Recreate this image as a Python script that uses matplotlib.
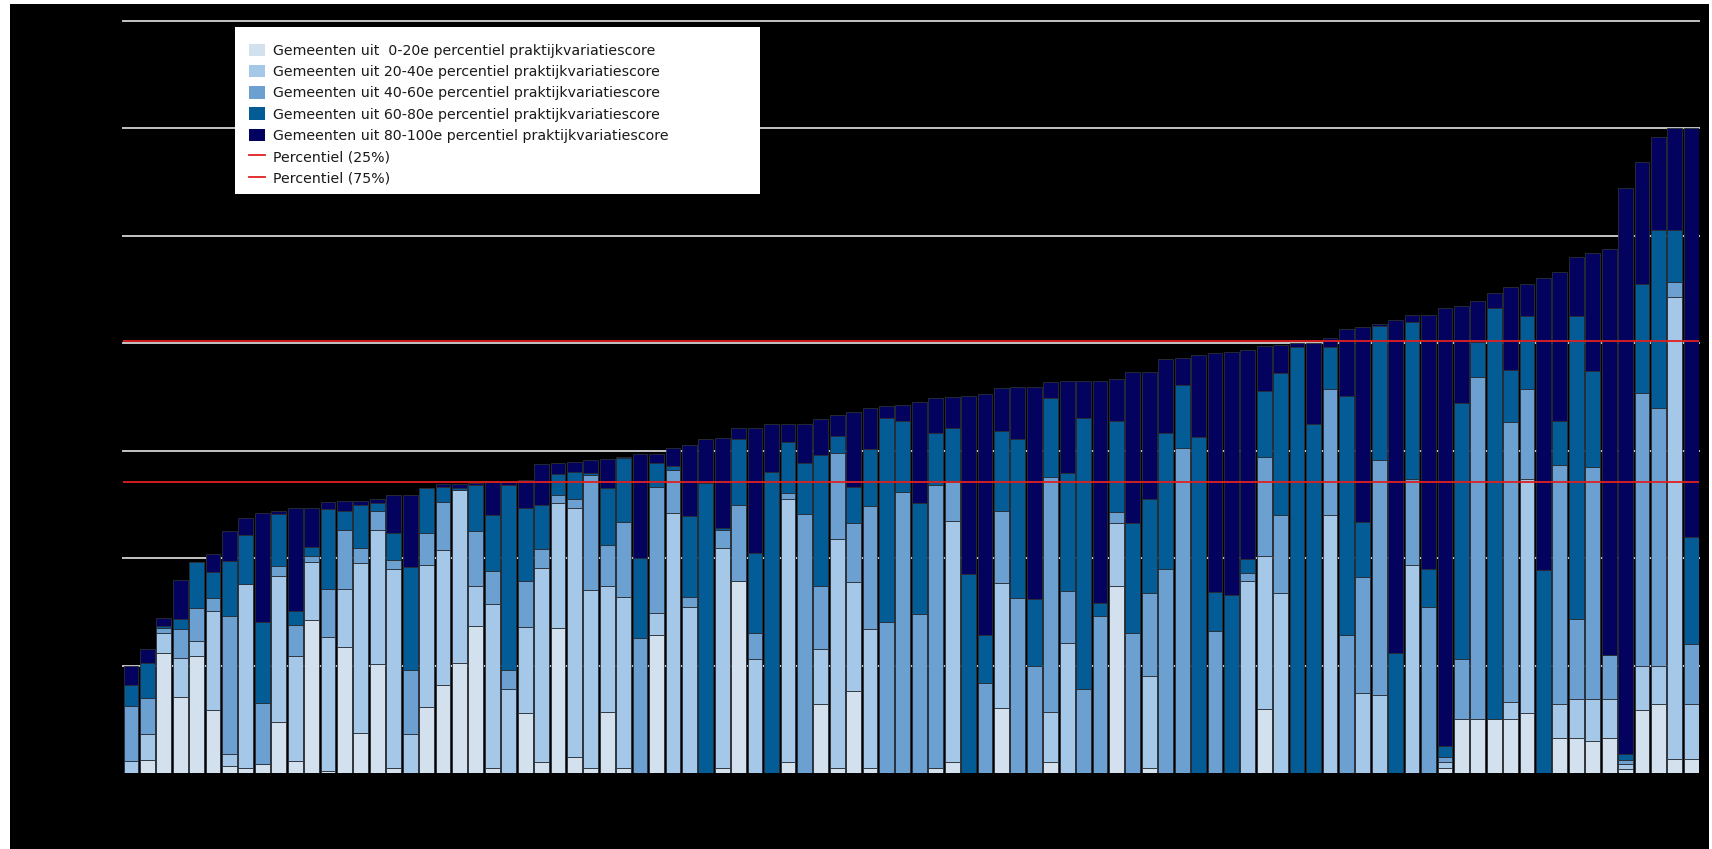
import matplotlib
matplotlib.use('Agg')
import matplotlib.pyplot as plt
import numpy as np
from matplotlib.patches import Rectangle, Patch
from matplotlib.lines import Line2D

# ---------------- data (cumulative upper bounds of each stacked group) ----------------
top_0_20 = [0, 0.12, 1.114, 0.711, 1.089, 0.587, 0.068, 0.05, 0.084, 0.472,
            0.112, 1.425, 0.02, 1.17, 0.375, 1.015, 0.05, 0, 0.611, 0.819,
            1.027, 1.369, 0.05, 0, 0.556, 0.1, 1.35, 0.15, 0.05, 0.565,
            0.05, 0, 1.285, 0, 0, 0, 0.05, 1.788, 0, 0,
            0.1, 0, 0.639, 0.05, 0.763, 0.05, 0, 0, 0, 0.05,
            0.1, 0, 0, 0.602, 0, 0, 0.1, 0, 0, 0,
            1.741, 0, 0.05, 0, 0, 0, 0, 0, 0, 0.593,
            0, 0, 0, 0, 0, 0, 0, 0, 0, 0,
            0.05, 0.5, 0.5, 0.5, 0.5, 0.555, 0, 0.33, 0.33, 0.30,
            0.33, 0.04, 0.59, 0.64, 0.13, 0.13]
top_20_40 = [0.11, 0.36, 1.30, 1.074, 1.229, 1.508, 0.177, 1.757, 0.084, 1.837,
             1.086, 1.965, 1.269, 1.713, 1.958, 2.26, 1.896, 0.36, 1.937, 2.076,
             2.632, 1.741, 1.574, 0.779, 1.363, 1.906, 2.517, 2.467, 1.704, 1.741,
             1.642, 0, 1.493, 2.418, 1.549, 0, 2.092, 1.788, 1.058, 0,
             2.551, 0, 1.151, 2.176, 1.781, 1.338, 0, 0, 0, 0.05,
             2.343, 0, 0, 1.769, 0, 0, 0.571, 1.214, 0, 0,
             2.331, 0, 0.903, 0, 0, 0, 0, 0, 1.788, 2.02,
             1.673, 0, 0, 2.402, 0, 0.742, 0.726, 0, 1.934, 0,
             0.1, 0.5, 0.5, 0.5, 0.664, 2.737, 0, 0.64, 0.69, 0.69,
             0.69, 0.08, 1.0, 1.0, 4.43, 0.64]
top_40_60 = [0.624, 0.695, 1.347, 1.338, 1.533, 1.633, 1.462, 1.757, 0.652, 1.927,
             1.378, 2.02, 1.713, 2.26, 2.092, 2.443, 1.983, 0.959, 2.232, 2.523,
             2.632, 2.256, 1.881, 0.959, 1.785, 2.089, 2.592, 2.554, 2.775, 2.12,
             2.34, 1.254, 2.666, 2.821, 1.642, 0, 2.263, 2.495, 1.307, 0,
             2.604, 2.412, 1.741, 2.983, 2.331, 2.486, 1.406, 2.62, 1.477, 2.682,
             2.706, 0, 0.835, 2.439, 1.633, 0.999, 2.759, 1.698, 0.782, 1.462,
             2.427, 1.307, 1.673, 1.896, 3.023, 0, 1.322, 0, 1.865, 2.939,
             2.402, 0, 0, 3.572, 1.285, 1.828, 2.916, 0, 2.734, 1.547,
             0.15, 1.058, 3.682, 0.5, 3.263, 3.573, 0, 2.865, 1.43, 2.85,
             1.10, 0.12, 3.54, 3.4, 4.57, 1.2]
top_60_80 = [0.82, 1.027, 1.369, 1.434, 1.968, 1.868, 1.977, 2.216, 1.409, 2.41,
             1.508, 2.107, 2.455, 2.44, 2.495, 2.511, 2.232, 1.921, 2.651, 2.66,
             2.651, 2.678, 2.399, 2.682, 2.467, 2.495, 2.787, 2.803, 2.79, 2.65,
             2.936, 2.005, 2.883, 2.858, 2.396, 2.697, 2.284, 3.11, 2.052, 2.803,
             3.082, 2.883, 2.958, 3.138, 2.666, 3.014, 3.309, 3.278, 2.511, 3.163,
             3.209, 1.853, 1.282, 3.181, 3.11, 1.617, 3.488, 2.79, 3.305, 1.586,
             3.278, 2.325, 2.548, 3.163, 3.613, 3.125, 1.688, 1.657, 1.989, 3.557,
             3.727, 3.963, 3.25, 3.963, 3.513, 2.34, 4.16, 1.12, 4.197, 1.898,
             0.25, 3.445, 4.011, 4.325, 3.755, 4.255, 1.887, 3.28, 4.25, 3.74,
             1.10, 0.18, 4.55, 5.05, 5.05, 2.2]
top_80_100 = [1.0, 1.155, 1.446, 1.797, 1.968, 2.036, 2.256, 2.371, 2.424, 2.44,
              2.464, 2.464, 2.523, 2.536, 2.536, 2.551, 2.592, 2.592, 2.651, 2.688,
              2.688, 2.697, 2.706, 2.71, 2.728, 2.874, 2.883, 2.899, 2.914, 2.923,
              2.945, 2.97, 2.97, 3.026, 3.051, 3.107, 3.122, 3.209, 3.209, 3.25,
              3.25, 3.25, 3.293, 3.33, 3.361, 3.402, 3.417, 3.43, 3.457, 3.489,
              3.501, 3.513, 3.529, 3.585, 3.597, 3.597, 3.641, 3.65, 3.65, 3.65,
              3.665, 3.737, 3.737, 3.852, 3.867, 3.892, 3.907, 3.923, 3.938, 3.979,
              3.985, 4.0, 4.0, 4.047, 4.131, 4.156, 4.179, 4.215, 4.259, 4.259,
              4.325, 4.35, 4.398, 4.467, 4.522, 4.551, 4.606, 4.66, 4.80, 4.84,
              4.88, 5.45, 5.69, 5.92, 6.0, 6.0]

percentile_25 = 2.712
percentile_75 = 4.02

labels = ['Gemeenten uit  0-20e percentiel praktijkvariatiescore',
          'Gemeenten uit 20-40e percentiel praktijkvariatiescore',
          'Gemeenten uit 40-60e percentiel praktijkvariatiescore',
          'Gemeenten uit 60-80e percentiel praktijkvariatiescore',
          'Gemeenten uit 80-100e percentiel praktijkvariatiescore',
          'Percentiel (25%)',
          'Percentiel (75%)']

colors = ['#d2e1ed', '#a5c8e8', '#6ca0d1', '#045c97', '#03035f']
red = '#e02020'

# ---------------- figure ----------------
W, H = 1712, 849
fig = plt.figure(figsize=(W / 100, H / 100), dpi=100, facecolor='black')
for (x0, y0, w, h) in [(0, 0, 10 / W, 1), (0, 1 - 4 / H, 1, 4 / H), (1 - 3 / W, 0, 3 / W, 1)]:
    fig.patches.append(Rectangle((x0, y0), w, h, transform=fig.transFigure,
                                 facecolor='white', edgecolor='none', zorder=-1))

ax = fig.add_axes([122.7 / W, 76 / H, (1699.5 - 122.7) / W, 752 / H])
ax.set_facecolor('black')

cum = [np.zeros(len(top_80_100))] + [np.array(a, float) for a in
                                      (top_0_20, top_20_40, top_40_60, top_60_80, top_80_100)]
x = np.arange(len(top_80_100))
for k in range(5):
    ax.bar(x, cum[k + 1] - cum[k], bottom=cum[k], width=0.9, color=colors[k],
           edgecolor='#2a2f36', linewidth=0.6, zorder=2)

for yv in range(1, 8):
    ax.axhline(yv, color='#c4c4c4', lw=1.4, zorder=0.5, clip_on=False)

ax.axhline(percentile_25, color=red, lw=1.3, zorder=3)
ax.axhline(percentile_75, color=red, lw=1.3, zorder=3)

ax.set_xlim(-0.5, len(x) - 0.5)
ax.set_ylim(0, 7)
ax.set_xticks([])
ax.set_yticks([])
for s in ax.spines.values():
    s.set_visible(False)

# legend box (white, fixed size as in the reference)
fig.patches.append(Rectangle((235 / W, 1 - 194 / H), (760 - 235) / W, (194 - 27) / H,
                             transform=fig.transFigure, facecolor='white',
                             edgecolor='none', zorder=5))
handles = [Patch(facecolor=c, edgecolor='none') for c in colors] + \
          [Line2D([], [], color=red, lw=1.3), Line2D([], [], color=red, lw=1.3)]
leg = fig.legend(handles, labels, loc='upper left', bbox_to_anchor=(249 / W, 1 - 43.5 / H),
                 bbox_transform=fig.transFigure, frameon=False,
                 prop={'family': 'DejaVu Sans', 'size': 10.2},
                 handlelength=1.15, handleheight=1.0, labelspacing=0.5,
                 borderpad=0, handletextpad=0.55, borderaxespad=0)
leg.set_zorder(6)
for t in leg.get_texts():
    t.set_color('#1a1a1a')

fig.savefig('out.png', dpi=100, facecolor=fig.get_facecolor())
